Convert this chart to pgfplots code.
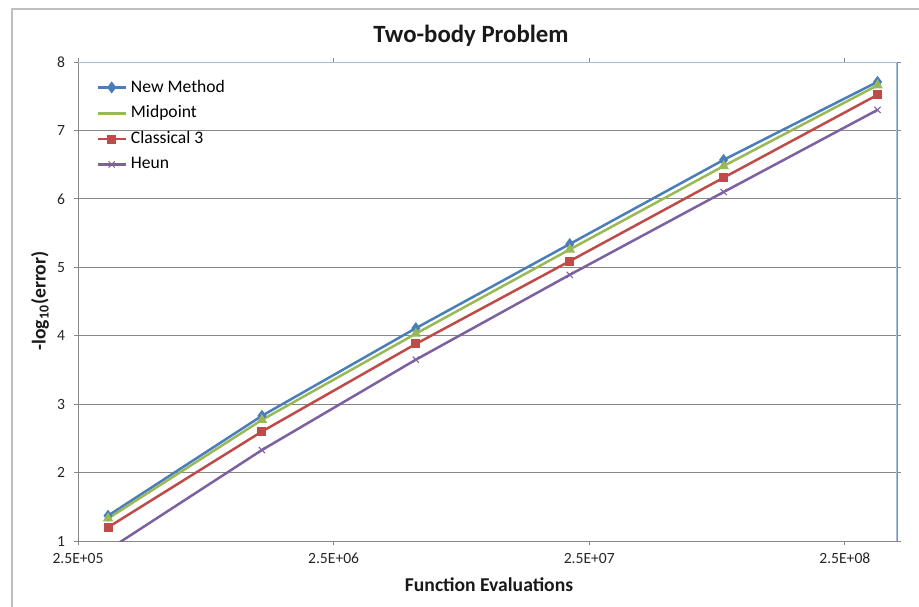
\documentclass[border=0pt]{standalone}
\usepackage{fontspec}
\setmainfont{Carlito}
\usepackage{pgfplots}
\pgfplotsset{compat=1.18}
\definecolor{cNew}{HTML}{4A7EBB}
\definecolor{cMid}{HTML}{98B954}
\definecolor{cCla}{HTML}{BE4B48}
\definecolor{cHeu}{HTML}{7D60A0}
\definecolor{gridc}{HTML}{878787}
\definecolor{boxc}{HTML}{A7BED8}
\begin{document}
\begin{tikzpicture}
\begin{axis}[
    at={(0,0)}, anchor=south west,
    width=409.5pt, height=239.5pt, scale only axis,
    xmode=log, log basis x=10,
    xmin=2.5e5, xmax=4e8, ymin=1, ymax=8,
    xtick={2.5e5,2.5e6,2.5e7,2.5e8},
    xticklabels={2.5E+05,2.5E+06,2.5E+07,2.5E+08},
    ytick={1,2,3,4,5,6,7,8},
    minor xtick={}, minor ytick={},
    tick align=outside, major tick length=2pt,
    tick style={gridc, thin},
    ymajorgrids, grid style={gridc, line width=0.5pt},
    axis line style={gridc, line width=0.5pt},
    /pgf/number format/assume math mode=true,
    tick label style={font=\fontsize{7.8}{9}\selectfont, black!85},
    xticklabel style={yshift=-0.5pt},
    yticklabel style={xshift=-1pt},
    legend style={draw=none, fill=none, at={(0.022,0.972)}, anchor=north west,
        font=\fontsize{8.8}{10}\selectfont, row sep=1.3pt, inner sep=0pt,
        cells={anchor=west}},
    legend image code/.code={\draw[mark repeat=2,mark phase=2] plot coordinates {(0pt,0pt)(7pt,0pt)(14pt,0pt)};},
    every axis plot/.append style={line width=1.25pt},
]
\addplot[cNew, mark=diamond*, mark size=2pt] coordinates {
    (3.2768e5,1.37) (1.31072e6,2.83) (5.24288e6,4.11) (2.097152e7,5.34) (8.388608e7,6.57) (3.3554432e8,7.71)};
\addlegendentry{New Method}
\addplot[cMid, mark=triangle*, mark size=1.8pt, legend image post style={mark=none}] coordinates {
    (3.2768e5,1.33) (1.31072e6,2.77) (5.24288e6,4.03) (2.097152e7,5.26) (8.388608e7,6.48) (3.3554432e8,7.66)};
\addlegendentry{Midpoint}
\addplot[cCla, mark=square*, mark size=1.6pt] coordinates {
    (3.2768e5,1.20) (1.31072e6,2.60) (5.24288e6,3.88) (2.097152e7,5.09) (8.388608e7,6.31) (3.3554432e8,7.52)};
\addlegendentry{Classical 3}
\addplot[cHeu, mark=x, mark size=2.2pt, mark options={line width=0.5pt}] coordinates {
    (3.2768e5,0.87) (1.31072e6,2.33) (5.24288e6,3.65) (2.097152e7,4.89) (8.388608e7,6.10) (3.3554432e8,7.30)};
\addlegendentry{Heun}
\draw[boxc, line width=0.7pt] (rel axis cs:0,1) -- (rel axis cs:1,1) -- (rel axis cs:1,0);
\end{axis}
% chart frame
\draw[gray!50, line width=0.6pt] (-33pt,-40pt) -- (-33pt,266pt) -- (430pt,266pt);
\node[font=\fontsize{12.4}{14}\selectfont\bfseries, black!90] at (196.5pt,252.5pt) {Two-body Problem};
\node[font=\fontsize{9.8}{11}\selectfont\bfseries, black!90] at (205.5pt,-22pt) {Function Evaluations};
\node[font=\fontsize{9.8}{11}\selectfont\bfseries, black!90, rotate=90] at (-19pt,120pt) {-log\textsubscript{10}(error)};
\pgfresetboundingbox
\path[use as bounding box] (-39pt,-32.5pt) rectangle (420.5pt,270.5pt);
\end{tikzpicture}
\end{document}
